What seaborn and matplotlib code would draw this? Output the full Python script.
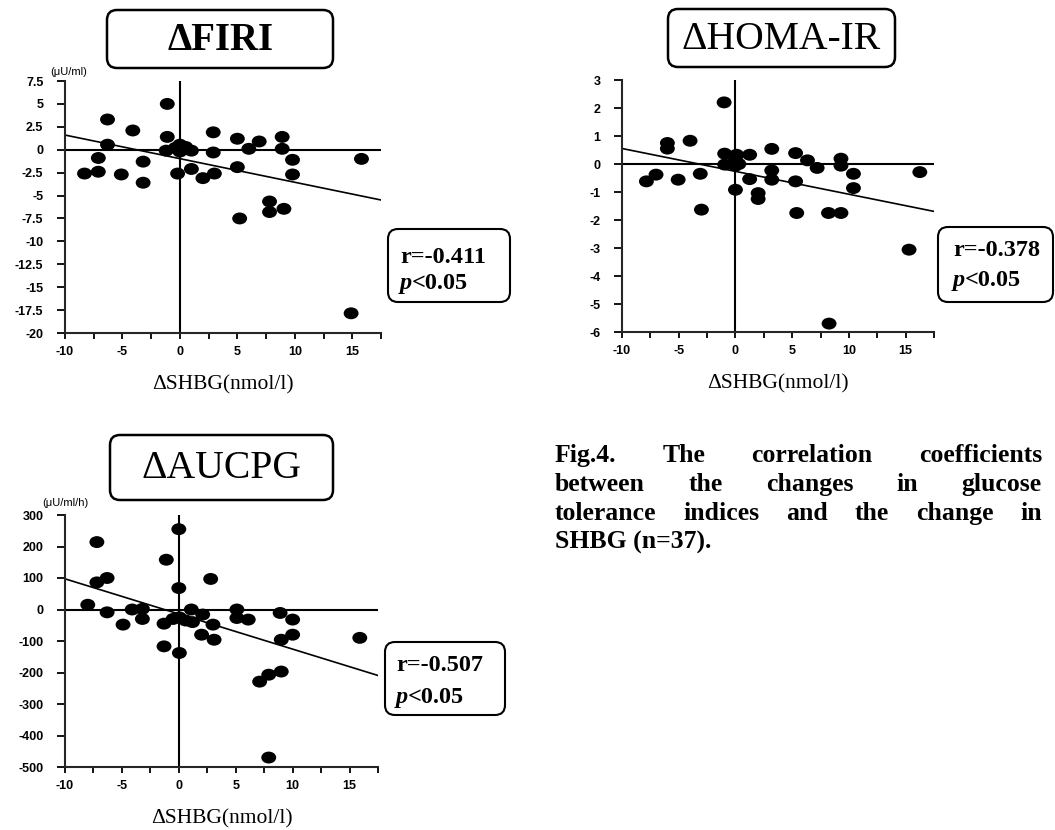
import numpy as np
import pandas as pd
import seaborn as sns
import matplotlib
matplotlib.use("Agg")
import matplotlib.pyplot as plt
from matplotlib.patches import FancyBboxPatch
from matplotlib.ticker import MultipleLocator, FuncFormatter
from matplotlib.path import Path
from matplotlib.transforms import Affine2D

# ---------------- data ----------------
firi_dshbg = [-1.1, -6.3, -4.1, -6.3, -1.1, 2.9, 5.0, 6.9, 6.0, 8.9, 8.9, 2.9, -1.2, 0.0, 0.0,
              1.0, -7.1, -8.3, -7.1, -5.1, -3.2, -3.2, -0.2, 1.0, 2.0, 3.0, 5.0, 9.8, 9.8, 15.8,
              5.2, 7.8, 7.8, 9.05, 14.9, 0.5, -0.4]
firi_delta = [5.0, 3.3, 2.1, 0.55, 1.4, 1.9, 1.2, 0.9, 0.1, 1.4, 0.1, -0.3, -0.1, 0.55, -0.2,
              -0.1, -0.9, -2.6, -2.4, -2.7, -1.3, -3.6, -2.6, -2.1, -3.1, -2.6, -1.9, -1.1, -2.7, -1.0,
              -7.5, -5.65, -6.8, -6.45, -17.85, 0.3, 0.2]

homa_dshbg = [-1.0, -6.0, -6.0, -4.0, -0.95, 0.1, 1.25, 3.2, 5.3, 6.35, 7.2, 9.3, 9.3, 10.4, 10.4,
              -0.95, 0.0, 0.0, -7.85, -7.0, -5.05, -3.1, 1.25, 3.2, 3.2, 5.3, 0.0, 2.0, 2.0, -3.0,
              5.4, 8.2, 9.3, 15.3, 8.25, 16.25, 0.3]
homa_delta = [2.2, 0.75, 0.55, 0.83, 0.37, 0.33, 0.33, 0.54, 0.39, 0.13, -0.14, 0.19, -0.06, -0.35, -0.86,
              -0.02, -0.06, 0.15, -0.62, -0.38, -0.56, -0.35, -0.54, -0.23, -0.56, -0.62, -0.92, -1.04, -1.25, -1.63,
              -1.75, -1.75, -1.75, -3.06, -5.7, -0.29, 0.0]

auc_dshbg = [-8.0, -7.2, -6.3, -7.2, -1.1, 0.0, 0.0, 2.8, -6.3, -4.9, -4.1, -3.2, -3.2, -1.3, -1.3,
             0.05, 0.05, 1.1, 1.2, 2.1, 2.0, 3.0, 3.1, 5.1, 5.1, 6.1, 8.9, 10.0, 10.0, 9.0,
             15.9, 7.1, 7.9, 9.0, 7.9, -0.5, 0.6]
auc_delta = [15, 214, 100, 86, 158, 255, 68, 97, -9, -48, 0, 2, -30, -45, -117,
             -138, -25, 0, -40, -16, -80, -48, -96, 0, -27, -32, -11, -32, -80, -96,
             -90, -229, -207, -197, -470, -30, -35]

panel_titles = ["ΔFIRI", "ΔHOMA-IR", "ΔAUCPG"]
title_weights = ["bold", "normal", "normal"]
r_labels = ["r=-0.411", "r=-0.378", "r=-0.507"]
p_label = "<0.05"
unit_labels = ["(μU/ml)", "", "(μU/ml/h)"]
x_label = "ΔSHBG(nmol/l)"
x_limits = (-10, 17.5)
y_limits = [(-20, 7.5), (-6, 3), (-500, 300)]
y_steps = [2.5, 1, 100]
caption_lines = ["Fig.4. The correlation coefficients",
                 "between the changes in glucose",
                 "tolerance indices and the change in",
                 "SHBG (n=37)."]

# ---------------- style ----------------
sns.set_theme(style="ticks", context="paper")
plt.rcParams["font.family"] = ["Liberation Serif", "DejaVu Serif"]
plt.rcParams["axes.unicode_minus"] = False

W, H = 1055, 830
fig = plt.figure(figsize=(W / 100, H / 100), dpi=100)
fig.patch.set_facecolor("white")


def fr(x0, y_top, x1, y_bot):
    return [x0 / W, 1 - y_bot / H, (x1 - x0) / W, (y_bot - y_top) / H]


ax_rects = [fr(65, 81, 381, 333), fr(622, 80, 934, 332), fr(65, 515, 378, 767)]

ellipse = Path.unit_circle().transformed(Affine2D().scale(1.0, 0.8))

xs = [firi_dshbg, homa_dshbg, auc_dshbg]
ys = [firi_delta, homa_delta, auc_delta]

tick_font = dict(family="Liberation Sans", weight="bold", size=9)
fmt = FuncFormatter(lambda v, p: f"{v:g}")

axes = []
for i in range(3):
    ax = fig.add_axes(ax_rects[i])
    ax.set_facecolor("white")
    ax.set_xlim(*x_limits)
    ax.set_ylim(*y_limits[i])
    ax.axhline(0, color="black", lw=1.5, zorder=1)
    ax.axvline(0, color="black", lw=1.5, zorder=1)
    df = pd.DataFrame({"x": xs[i], "y": ys[i]})
    sns.scatterplot(data=df, x="x", y="y", ax=ax, color="black", marker=ellipse,
                    s=115, linewidth=0, edgecolor="none", legend=False, zorder=3)
    sns.regplot(data=df, x="x", y="y", ax=ax, scatter=False, ci=None, truncate=False,
                color="black", line_kws={"lw": 1.2, "zorder": 2})
    ax.set_xlim(*x_limits)
    ax.set_ylim(*y_limits[i])
    for s in ["top", "right"]:
        ax.spines[s].set_visible(False)
    for s in ["left", "bottom"]:
        ax.spines[s].set_linewidth(1.5)
    ax.xaxis.set_major_locator(MultipleLocator(5))
    ax.xaxis.set_minor_locator(MultipleLocator(2.5))
    ax.yaxis.set_major_locator(MultipleLocator(y_steps[i]))
    ax.xaxis.set_major_formatter(fmt)
    ax.yaxis.set_major_formatter(fmt)
    ax.tick_params(axis="x", which="both", direction="out", length=4.5, width=1.3, pad=5, color="black")
    ax.tick_params(axis="y", which="both", direction="out", length=5.5, width=1.3, pad=10, color="black")
    for lab in ax.get_xticklabels() + ax.get_yticklabels():
        lab.set_fontfamily(tick_font["family"])
        lab.set_fontweight(tick_font["weight"])
        lab.set_fontsize(tick_font["size"])
        lab.set_color("black")
    ax.set_ylabel("")
    ax.set_xlabel(x_label, fontsize=15.5, color="black")
    ax.xaxis.set_label_coords(0.5, -52 / 252)
    ax.xaxis.label.set_va("center")
    axes.append(ax)

T = fig.dpi_scale_trans


def P(x, y):
    return (x / 100, (H - y) / 100)


def rbox(x0, y0, x1, y1, r=9, lw=1.6):
    (a, b) = P(x0, y1)
    patch = FancyBboxPatch((a, b), (x1 - x0) / 100, (y1 - y0) / 100,
                           boxstyle=f"round,pad=0,rounding_size={r/100}",
                           transform=T, facecolor="white", edgecolor="black", lw=lw, zorder=5)
    fig.add_artist(patch)


# title boxes
title_boxes = [(107, 10, 333, 68), (668, 9, 895, 67), (110, 435, 333, 500)]
title_sizes = [28, 28.5, 28.5]
for (x0, y0, x1, y1), t, w, fs in zip(title_boxes, panel_titles, title_weights, title_sizes):
    rbox(x0, y0, x1, y1, r=10, lw=1.8)
    cx, cy = P((x0 + x1) / 2, (y0 + y1) / 2 + 1)
    fig.text(cx, cy, t, transform=T, ha="center", va="center", fontsize=fs,
             fontweight=w, color="black", zorder=6)

# unit labels
unit_pos = [(69, 72), None, (65, 503)]
for u, pos in zip(unit_labels, unit_pos):
    if u and pos:
        fig.text(*P(*pos), u, transform=T, ha="center", va="center", fontsize=8,
                 family="Liberation Sans", color="black")

# statistics boxes
renderer = fig.canvas.get_renderer()
stat_boxes = [(388, 229, 510, 302), (938, 227, 1053, 302), (385, 642, 505, 715)]
stat_text = [((400, 257), (400, 283)), ((953, 250), (953, 280)), ((396, 665), (396, 697))]
for (x0, y0, x1, y1), rl, ((rx, ry), (px_, py_)) in zip(stat_boxes, r_labels, stat_text):
    rbox(x0, y0, x1, y1, r=10, lw=1.5)
    fig.text(*P(rx, ry), rl, transform=T, ha="left", va="center", fontsize=17.5,
             fontweight="bold", color="black", zorder=6)
    tp = fig.text(*P(px_, py_), "p", transform=T, ha="left", va="center", fontsize=17.5,
                  fontweight="bold", fontstyle="italic", color="black", zorder=6)
    wpx = tp.get_window_extent(renderer).width
    fig.text(*P(px_ + wpx, py_), p_label, transform=T, ha="left", va="center", fontsize=17.5,
             fontweight="bold", color="black", zorder=6)

# caption, justified
cap_x0, cap_x1 = 555, 1042
cap_y = [455, 484, 513, 542]
cap_fs = 18.5
for i, (line, yy) in enumerate(zip(caption_lines, cap_y)):
    words = line.split()
    if i == len(caption_lines) - 1:
        fig.text(*P(cap_x0, yy), line, transform=T, ha="left", va="center",
                 fontsize=cap_fs, fontweight="bold", color="black")
        continue
    texts = [fig.text(*P(cap_x0, yy), w_, transform=T, ha="left", va="center",
                      fontsize=cap_fs, fontweight="bold", color="black") for w_ in words]
    widths = [t.get_window_extent(renderer).width for t in texts]
    gap = (cap_x1 - cap_x0 - sum(widths)) / (len(words) - 1)
    x = cap_x0
    for t, wd in zip(texts, widths):
        t.set_position(P(x, yy))
        x += wd + gap

fig.savefig("out.png", dpi=100, facecolor="white")
